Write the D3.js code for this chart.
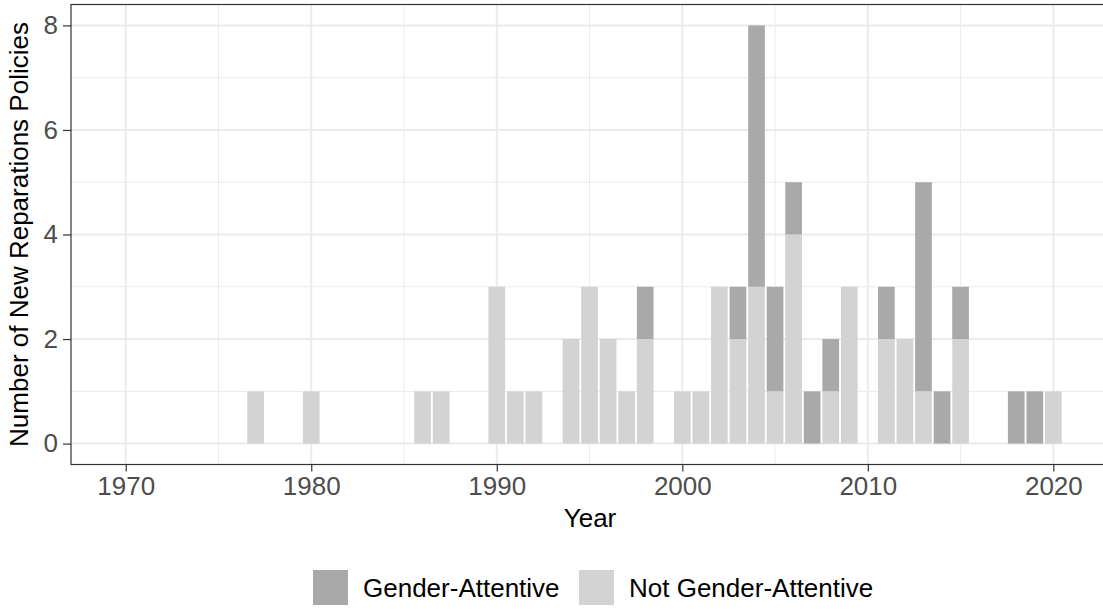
<!DOCTYPE html>
<html>
<head>
<meta charset="utf-8">
<script src="https://cdn.jsdelivr.net/npm/d3@7"></script>
<style>
  body { margin: 0; background: #fff; }
  svg { overflow: hidden; }
  text { font-family: "Liberation Sans", Arial, Helvetica, sans-serif; }
</style>
</head>
<body>
<svg id="chart" width="1103" height="609"></svg>
<script>
// policies per year, split by gender attention
var years = [1977, 1980, 1986, 1987, 1990, 1991, 1992, 1994, 1995, 1996, 1997, 1998,
  2000, 2001, 2002, 2003, 2004, 2005, 2006, 2007, 2008, 2009, 2011, 2012, 2013, 2014, 2015,
  2018, 2019, 2020];
var genderAttentive    = [0, 0, 0, 0, 0, 0, 0, 0, 0, 0, 0, 1, 0, 0, 0, 1, 5, 2, 1, 1, 1, 0, 1, 0, 4, 1, 1, 1, 1, 0];
var notGenderAttentive = [1, 1, 1, 1, 3, 1, 1, 2, 3, 2, 1, 2, 1, 1, 3, 2, 3, 1, 4, 0, 1, 3, 2, 2, 1, 0, 2, 0, 0, 1];

var xTicks = [1970, 1980, 1990, 2000, 2010, 2020];
var xMinor = [1975, 1985, 1995, 2005, 2015];
var yTicks = [0, 2, 4, 6, 8];
var yMinor = [1, 3, 5, 7];

var seriesNames = ["Gender-Attentive", "Not Gender-Attentive"];
var seriesColors = ["#a9a9a9", "#d3d3d3"];

var svg = d3.select("#chart");
// the right edge of the panel runs past the picture, as in the original crop
var panel = {left: 71, right: 1109, top: 4.5, bottom: 464.5};

var x = d3.scaleLinear().domain([1967.05, 2023.0]).range([panel.left, panel.right]);
var y = d3.scaleLinear().domain([-0.4, 8.4]).range([panel.bottom, panel.top]);
var barW = (x(1) - x(0)) * 0.9;

// grid
var grid = svg.append("g");
grid.selectAll(".ymin").data(yMinor).enter().append("line")
  .attr("x1", panel.left).attr("x2", panel.right)
  .attr("y1", function(d) { return y(d); }).attr("y2", function(d) { return y(d); })
  .attr("stroke", "#ebebeb").attr("stroke-width", 1);
grid.selectAll(".xmin").data(xMinor).enter().append("line")
  .attr("y1", panel.top).attr("y2", panel.bottom)
  .attr("x1", function(d) { return x(d); }).attr("x2", function(d) { return x(d); })
  .attr("stroke", "#ebebeb").attr("stroke-width", 1);
grid.selectAll(".ymaj").data(yTicks).enter().append("line")
  .attr("x1", panel.left).attr("x2", panel.right)
  .attr("y1", function(d) { return y(d); }).attr("y2", function(d) { return y(d); })
  .attr("stroke", "#ebebeb").attr("stroke-width", 2);
grid.selectAll(".xmaj").data(xTicks).enter().append("line")
  .attr("y1", panel.top).attr("y2", panel.bottom)
  .attr("x1", function(d) { return x(d); }).attr("x2", function(d) { return x(d); })
  .attr("stroke", "#ebebeb").attr("stroke-width", 2);

// stacked bars: not gender-attentive at the bottom
var rows = years.map(function(yr, i) {
  return {year: yr, ga: genderAttentive[i], nga: notGenderAttentive[i]};
});
var bars = svg.append("g");
bars.selectAll(".nga").data(rows.filter(function(d) { return d.nga > 0; })).enter().append("rect")
  .attr("x", function(d) { return x(d.year) - barW / 2; })
  .attr("width", barW)
  .attr("y", function(d) { return y(d.nga); })
  .attr("height", function(d) { return y(0) - y(d.nga); })
  .attr("fill", seriesColors[1]);
bars.selectAll(".ga").data(rows.filter(function(d) { return d.ga > 0; })).enter().append("rect")
  .attr("x", function(d) { return x(d.year) - barW / 2; })
  .attr("width", barW)
  .attr("y", function(d) { return y(d.nga + d.ga); })
  .attr("height", function(d) { return y(d.nga) - y(d.nga + d.ga); })
  .attr("fill", seriesColors[0]);

// panel border
svg.append("rect")
  .attr("x", panel.left).attr("y", panel.top)
  .attr("width", panel.right - panel.left).attr("height", panel.bottom - panel.top)
  .attr("fill", "none").attr("stroke", "#333").attr("stroke-width", 1.2);

// axes
var xAxis = svg.append("g")
  .attr("transform", "translate(0," + panel.bottom + ")")
  .call(d3.axisBottom(x).tickValues(xTicks).tickFormat(d3.format("d")).tickSize(7).tickPadding(5));
var yAxis = svg.append("g")
  .attr("transform", "translate(" + panel.left + ",0)")
  .call(d3.axisLeft(y).tickValues(yTicks).tickSize(8).tickPadding(5));
[xAxis, yAxis].forEach(function(a) {
  a.select(".domain").remove();
  a.selectAll(".tick line").attr("stroke", "#333").attr("stroke-width", 1.2);
  a.selectAll(".tick text").attr("fill", "#4d4d4d").style("font-size", "26px");
});

// titles
svg.append("text")
  .attr("x", (panel.left + panel.right) / 2).attr("y", 527)
  .attr("text-anchor", "middle").style("font-size", "26px").attr("fill", "#000")
  .text("Year");
svg.append("text")
  .attr("transform", "translate(28," + (panel.top + panel.bottom) / 2 + ") rotate(-90)")
  .attr("text-anchor", "middle").style("font-size", "26px").attr("fill", "#000")
  .text("Number of New Reparations Policies");

// legend
var legendX = [313, 579];
var legend = svg.append("g");
var item = legend.selectAll(".item").data(seriesNames).enter().append("g")
  .attr("transform", function(d, i) { return "translate(" + legendX[i] + ",570)"; });
item.append("rect").attr("width", 35).attr("height", 35)
  .attr("fill", function(d, i) { return seriesColors[i]; });
item.append("text").attr("x", 50).attr("y", 27)
  .style("font-size", "26px").attr("fill", "#000")
  .text(function(d) { return d; });
</script>
</body>
</html>
